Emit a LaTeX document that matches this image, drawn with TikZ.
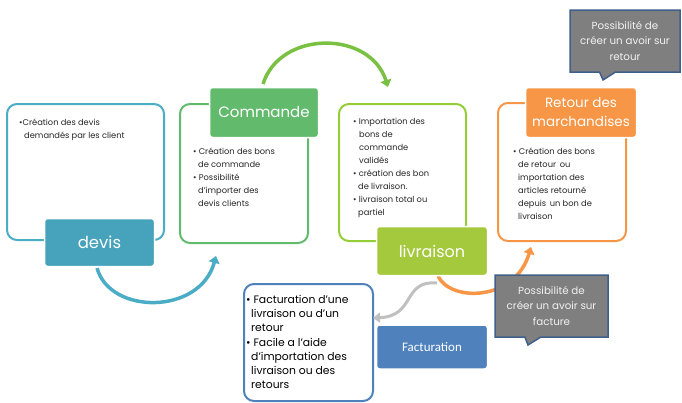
\documentclass[tikz,border=0pt]{standalone}
\usepackage{fontspec}
\setmainfont{Poppins}
\newfontfamily\calib{Carlito}
\usetikzlibrary{shapes.callouts,arrows.meta}
\definecolor{cteal}{HTML}{4BACC6}
\definecolor{cgreen}{HTML}{62BB6D}
\definecolor{carrgreen}{HTML}{7AC143}
\definecolor{clime}{HTML}{A5C93D}
\definecolor{corange}{HTML}{F79646}
\definecolor{cblue}{HTML}{4F81BD}
\definecolor{cgray}{HTML}{7F7F7F}
\definecolor{cborder}{HTML}{3E5F8A}
\definecolor{carrgray}{HTML}{C0C0C0}
\definecolor{ctext}{HTML}{262626}
\begin{document}
\begin{tikzpicture}[x=1pt,y=-1pt,
  outl/.style={draw, line width=2pt, rounded corners=10pt, anchor=north west, inner sep=0pt},
  fbox/.style={draw=white, line width=1.5pt, rounded corners=3pt, text=white, inner sep=0pt, align=center},
  bul/.style={anchor=north west, align=left, text=ctext, inner sep=0pt, font=\fontsize{8.3}{13}\selectfont},
  avoir/.style={rectangle callout, fill=cgray, draw=cborder, line width=1.5pt, callout pointer width=16pt,
     text=white!95!black, align=center, font=\fontsize{10.3}{15.5}\selectfont, inner sep=0pt},
  arr/.style={line width=3.5pt, -{Triangle[length=7pt,width=11pt]}}
]
\useasboundingbox (0,0) rectangle (682,402);

% outline boxes
\node[outl, draw=cteal, minimum width=157pt, minimum height=136pt] (devisbox) at (6,103) {};
\node[outl, draw=cgreen, minimum width=128pt, minimum height=139pt] (cmdbox) at (179,103) {};
\node[outl, draw=clime!90!green, minimum width=127pt, minimum height=137pt] (livbox) at (338,103) {};
\node[outl, draw=corange, minimum width=128pt, minimum height=138pt] (retbox) at (497,102) {};
\node[outl, draw=cblue, minimum width=129pt, minimum height=117pt] (facbox) at (243,283) {};

% bullet texts
\node[bul] (t1) at (19,119) {•Création des devis\\\hspace*{5pt}demandés par les client};
\node[bul] (t2) at (193,148) {• Création des bons\\\hspace*{5pt}de commande\\• Possibilité\\\hspace*{5pt}d'importer des\\\hspace*{5pt}devis clients};
\node[bul] (t3) at (353,118) {• Importation des\\\hspace*{6pt}bons de\\\hspace*{6pt}commande\\\hspace*{6pt}validés\\• création des bon\\\hspace*{5pt}de livraison.\\• livraison total ou\\\hspace*{5pt}partiel};
\node[bul] (t4) at (513,148) {• Création des bons\\\hspace*{5pt}de retour\, ou\\\hspace*{5pt}importation des\\\hspace*{5pt}articles retourné\\\hspace*{5pt}depuis\, un bon de\\\hspace*{5pt}livraison};
\node[bul, font=\fontsize{10.8}{14.2}\selectfont, text=black] (t5) at (246,295) {• Facturation d'une\\\hspace*{5pt}livraison ou d'un\\\hspace*{5pt}retour\\• Facile a l'aide\\\hspace*{5pt}d'importation des\\\hspace*{5pt}livraison ou des\\\hspace*{5pt}retours};

% arrows
\coordinate (b1) at (97,268);
\coordinate (b2) at (216,256);
\draw[arr, cteal] (b1) .. controls (110,315) and (200,315) .. (b2);
\coordinate (g1) at (263,84);
\coordinate (g2) at (388,87);
\draw[arr, carrgreen] (g1) .. controls (280,30) and (370,30) .. (g2);
\coordinate (o1) at (438,276);
\coordinate (o2) at (531,247);
\draw[arr, corange] (o1) .. controls (450,302) and (515,302) .. (o2);
\coordinate (y1) at (437,283);
\coordinate (y2) at (373,318);
\draw[line width=3pt, carrgray, -{Triangle[length=7pt,width=10pt]}] (y1) .. controls (402,280) and (416,316) .. (y2);

% filled boxes
\node[fbox, fill=cteal!95!black, minimum width=110pt, minimum height=48pt, font=\fontsize{16.5}{20}\selectfont] (devis) at (99.5,242.5) {devis};
\node[fbox, fill=cgreen, minimum width=109pt, minimum height=50pt, font=\fontsize{15}{20}\selectfont] (cmd) at (264,112.5) {Commande};
\node[fbox, fill=clime, minimum width=111pt, minimum height=49pt, font=\fontsize{16}{20}\selectfont] (liv) at (432,251) {livraison};
\node[fbox, fill=corange, minimum width=111pt, minimum height=50pt, font=\fontsize{13.5}{19}\selectfont] (ret) at (581,112.5) {Retour des\\marchandises};
\node[fbox, fill=cblue, minimum width=111pt, minimum height=44pt, font=\calib\fontsize{13}{16}\selectfont] (fac) at (432,347) {Facturation};

% callouts
\node[avoir, minimum width=110pt, minimum height=62pt, callout absolute pointer={(603,80)}] (av1) at (625,41) {Possibilité de\\créer un avoir sur\\retour};
\node[avoir, minimum width=113pt, minimum height=62pt, callout absolute pointer={(528,345)}] (av2) at (551.5,306) {Possibilité de\\créer un avoir sur\\facture};
\end{tikzpicture}
\end{document}
